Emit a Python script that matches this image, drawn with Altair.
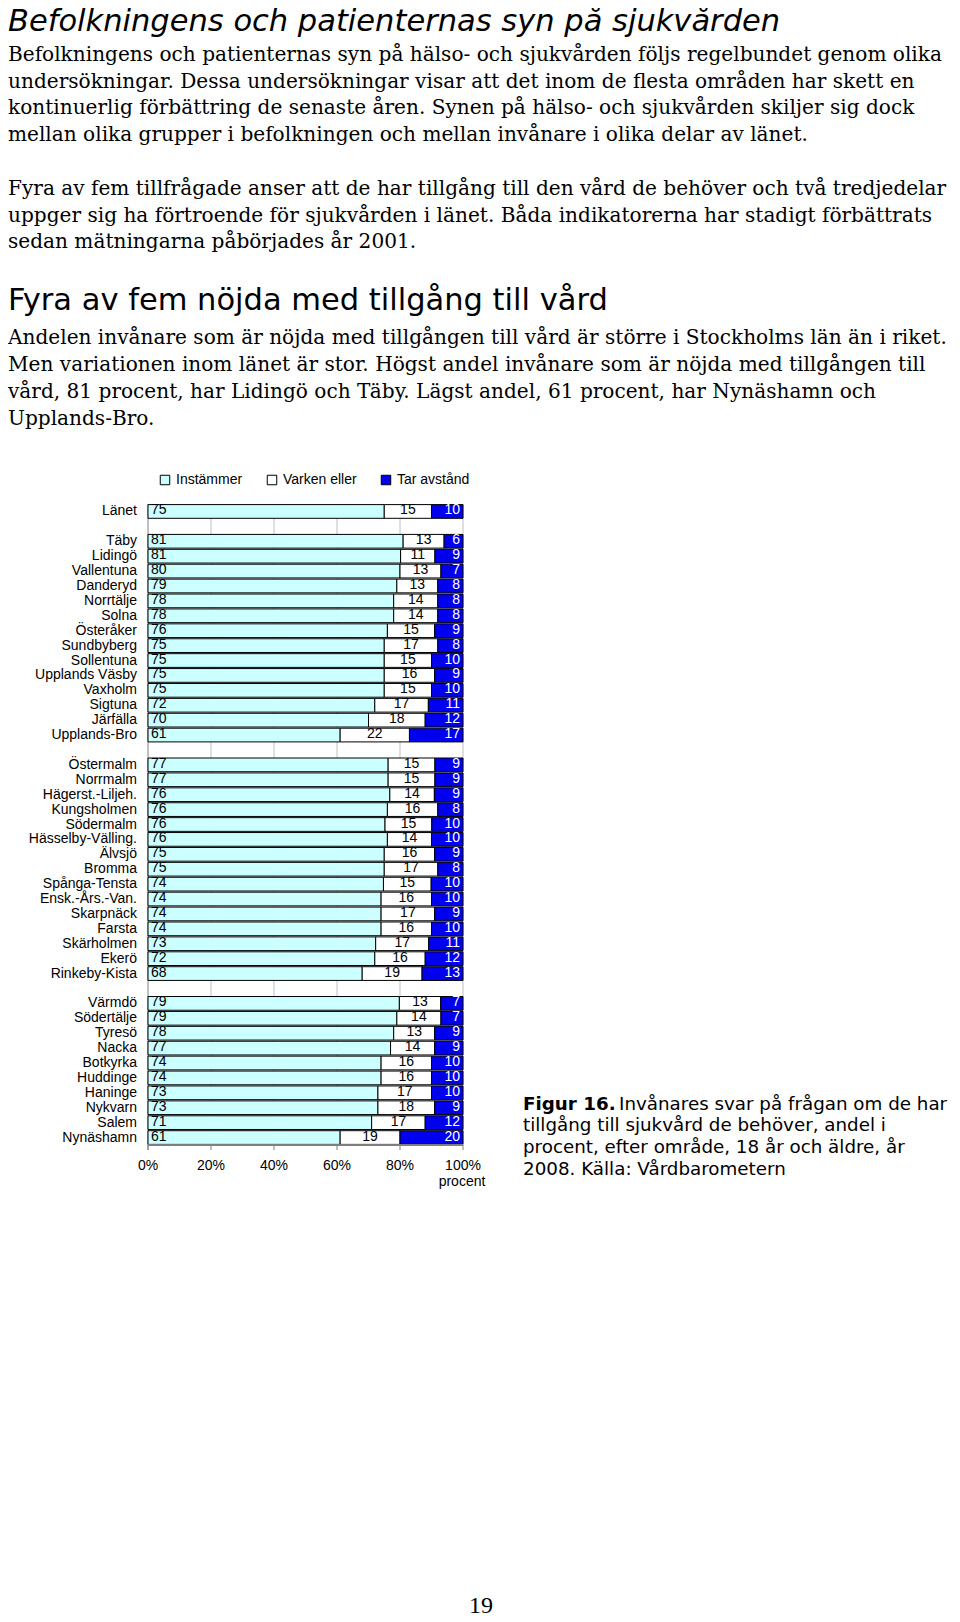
import altair as alt
import pandas as pd

# ---------------- data ----------------
areas = ["Länet", "Täby", "Lidingö", "Vallentuna", "Danderyd", "Norrtälje", "Solna",
         "Österåker", "Sundbyberg", "Sollentuna", "Upplands Väsby", "Vaxholm", "Sigtuna",
         "Järfälla", "Upplands-Bro", "Östermalm", "Norrmalm", "Hägerst.-Liljeh.",
         "Kungsholmen", "Södermalm", "Hässelby-Välling.", "Älvsjö", "Bromma",
         "Spånga-Tensta", "Ensk.-Års.-Van.", "Skarpnäck", "Farsta", "Skärholmen", "Ekerö",
         "Rinkeby-Kista", "Värmdö", "Södertälje", "Tyresö", "Nacka", "Botkyrka", "Huddinge",
         "Haninge", "Nykvarn", "Salem", "Nynäshamn"]
instammer = [75, 81, 81, 80, 79, 78, 78, 76, 75, 75, 75, 75, 72, 70, 61,
             77, 77, 76, 76, 76, 76, 75, 75, 74, 74, 74, 74, 73, 72, 68,
             79, 79, 78, 77, 74, 74, 73, 73, 71, 61]
varken = [15, 13, 11, 13, 13, 14, 14, 15, 17, 15, 16, 15, 17, 18, 22,
          15, 15, 14, 16, 15, 14, 16, 17, 15, 16, 17, 16, 17, 16, 19,
          13, 14, 13, 14, 16, 16, 17, 18, 17, 19]
tar = [10, 6, 9, 7, 8, 8, 8, 9, 8, 10, 9, 10, 11, 12, 17,
       9, 9, 9, 8, 10, 10, 9, 8, 10, 10, 9, 10, 11, 12, 13,
       7, 7, 9, 9, 10, 10, 10, 9, 12, 20]
categories = ["Instämmer", "Varken eller", "Tar avstånd"]
cat_colors = ["#ccffff", "#ffffff", "#0000ee"]
# row order with blank spacer rows between groups
row_order = (["Länet", " "] + areas[1:15] + ["  "] + areas[15:30] + ["   "] + areas[30:])
tick_values = [0, 20, 40, 60, 80, 100]
tick_labels = ["0%", "20%", "40%", "60%", "80%", "100%"]

title1 = "Befolkningens och patienternas syn på sjukvården"
para1 = [
    "Befolkningens och patienternas syn på hälso- och sjukvården följs regelbundet genom olika",
    "undersökningar. Dessa undersökningar visar att det inom de flesta områden har skett en",
    "kontinuerlig förbättring de senaste åren. Synen på hälso- och sjukvården skiljer sig dock",
    "mellan olika grupper i befolkningen och mellan invånare i olika delar av länet.",
]
para2 = [
    "Fyra av fem tillfrågade anser att de har tillgång till den vård de behöver och två tredjedelar",
    "uppger sig ha förtroende för sjukvården i länet. Båda indikatorerna har stadigt förbättrats",
    "sedan mätningarna påbörjades år 2001.",
]
title2 = "Fyra av fem nöjda med tillgång till vård"
para3 = [
    "Andelen invånare som är nöjda med tillgången till vård är större i Stockholms län än i riket.",
    "Men variationen inom länet är stor. Högst andel invånare som är nöjda med tillgången till",
    "vård, 81 procent, har Lidingö och Täby. Lägst andel, 61 procent, har Nynäshamn och",
    "Upplands-Bro.",
]
caption_bold = "Figur 16."
caption = [
    "Invånares svar på frågan om de har",
    "tillgång till sjukvård de behöver, andel i",
    "procent, efter område, 18 år och äldre, år",
    "2008. Källa: Vårdbarometern",
]
page_no = "19"

# ---------------- tables ----------------
ord_map = {c: i for i, c in enumerate(categories)}
long_rows = []
for a, i_, v_, t_ in zip(areas, instammer, varken, tar):
    for c, val in zip(categories, [i_, v_, t_]):
        long_rows.append({"area": a, "kat": c, "val": val, "ord": ord_map[c]})
long_df = pd.DataFrame(long_rows)
wide_df = pd.DataFrame({"area": areas, "I": instammer, "V": varken, "T": tar})
tick_df = pd.DataFrame({"t": tick_values, "lab": tick_labels})

# ---------------- geometry ----------------
X0, X1 = 140, 455           # plot area in chart px
Y0, Y1 = 496, 1137
xscale = alt.Scale(domain=[0, 100], range=[X0, X1], nice=False, zero=False)
yscale = alt.Scale(domain=row_order, range=[Y0, Y1], paddingInner=0.08, paddingOuter=0.04)
LFONT = "Liberation Sans"
LSIZE = 14

grid = alt.Chart(tick_df).transform_filter("datum.t > 0").mark_rule(
    color="#c0c0c0", strokeWidth=1).encode(
    x=alt.X("t:Q", scale=xscale, axis=None), y=alt.value(Y0), y2=alt.value(Y1))
left_line = alt.Chart(tick_df).transform_filter("datum.t == 0").mark_rule(
    color="#808080", strokeWidth=1).encode(
    x=alt.X("t:Q", scale=xscale, axis=None), y=alt.value(Y0), y2=alt.value(Y1 + 5))
ticks = alt.Chart(tick_df).mark_rule(color="#808080", strokeWidth=1).encode(
    x=alt.X("t:Q", scale=xscale, axis=None), y=alt.value(Y1), y2=alt.value(Y1 + 5))
bottom_line = alt.Chart(tick_df).mark_rule(color="#808080", strokeWidth=1).encode(
    x=alt.value(X0), x2=alt.value(X1), y=alt.value(Y1))
tick_text = alt.Chart(tick_df).mark_text(
    font=LFONT, fontSize=LSIZE, color="black", baseline="middle", align="center").encode(
    x=alt.X("t:Q", scale=xscale, axis=None), y=alt.value(1158), text="lab:N")
procent = alt.Chart(tick_df).transform_filter("datum.t == 100").mark_text(
    font=LFONT, fontSize=LSIZE, color="black", baseline="middle", align="center",
    text="procent", dx=-1).encode(
    x=alt.X("t:Q", scale=xscale, axis=None), y=alt.value(1174))

bars = alt.Chart(long_df).transform_joinaggregate(
    total="sum(val)", groupby=["area"]).transform_calculate(
    pct="100 * datum.val / datum.total").mark_bar(
    stroke="black", strokeWidth=1).encode(
    x=alt.X("pct:Q", stack="zero", scale=xscale, axis=None),
    y=alt.Y("area:N", scale=yscale, axis=None, sort=row_order),
    color=alt.Color("kat:N", scale=alt.Scale(domain=categories, range=cat_colors),
                    legend=alt.Legend(orient="none", legendX=150, legendY=465,
                                      direction="horizontal", title=None,
                                      symbolType="square", symbolSize=90,
                                      symbolStrokeColor="black", symbolStrokeWidth=1,
                                      labelFont=LFONT, labelFontSize=LSIZE,
                                      labelColor="black", labelOffset=4,
                                      columnPadding=22, padding=0)),
    order=alt.Order("ord:Q"),
)

lab_base = alt.Chart(wide_df).transform_calculate(
    midV="100 * (datum.I + datum.V / 2) / (datum.I + datum.V + datum.T)")
lab_i = lab_base.mark_text(font=LFONT, fontSize=LSIZE, color="black", align="left",
                           baseline="middle", dx=3, dy=-1).encode(
    x=alt.X(datum=0, scale=xscale, axis=None),
    y=alt.Y("area:N", scale=yscale, axis=None), text="I:Q")
lab_v = lab_base.mark_text(font=LFONT, fontSize=LSIZE, color="black", align="center",
                           baseline="middle", dy=-1).encode(
    x=alt.X("midV:Q", scale=xscale, axis=None),
    y=alt.Y("area:N", scale=yscale, axis=None), text="V:Q")
lab_t = lab_base.mark_text(font=LFONT, fontSize=LSIZE, color="white", align="right",
                           baseline="middle", dx=-3, dy=-1).encode(
    x=alt.X(datum=100, scale=xscale, axis=None),
    y=alt.Y("area:N", scale=yscale, axis=None), text="T:Q")
row_labels = alt.Chart(wide_df).mark_text(font=LFONT, fontSize=LSIZE, color="black",
                                          align="right", baseline="middle").encode(
    x=alt.value(129), y=alt.Y("area:N", scale=yscale, axis=None), text="area:N")

# ---------------- page text ----------------
anchor = alt.Chart(pd.DataFrame({"k": [0]}))


def txt(s, x, y, **kw):
    return anchor.mark_text(text=s, align="left", baseline="alphabetic", **kw).encode(
        x=alt.value(x), y=alt.value(y))


BODY = dict(font="DejaVu Serif", fontSize=20.1, color="black")
HEAD = dict(font="DejaVu Sans", fontSize=30.5, color="black")
texts = [txt(title1, 0, 23, fontStyle="italic", **HEAD)]
for i, s in enumerate(para1):
    texts.append(txt(s, 0, 52.7 + 26.8 * i, **BODY))
for i, s in enumerate(para2):
    texts.append(txt(s, 0, 187 + 26.7 * i, **BODY))
texts.append(txt(title2, 0, 302, **HEAD))
for i, s in enumerate(para3):
    texts.append(txt(s, 0, 336 + 27 * i, **BODY))
CAP = dict(font="DejaVu Sans", fontSize=18.3, color="black")
texts.append(txt(caption_bold, 515, 1101.5, fontWeight="bold", **CAP))
for i, s in enumerate(caption):
    texts.append(txt(s, 611 if i == 0 else 515, 1101.5 + 21.7 * i, **CAP))
texts.append(anchor.mark_text(text=page_no, align="center", baseline="alphabetic",
                              font="Liberation Serif", fontSize=24, color="black").encode(
    x=alt.value(473), y=alt.value(1605)))

chart = alt.layer(
    grid, left_line, bars, bottom_line, ticks, tick_text, procent,
    lab_i, lab_v, lab_t, row_labels, *texts
).properties(
    width=944, height=1606, autosize="none", padding=0, background="white"
).configure_view(stroke=None)

chart.save("out.html", embed_options={"renderer": "svg", "actions": False})
